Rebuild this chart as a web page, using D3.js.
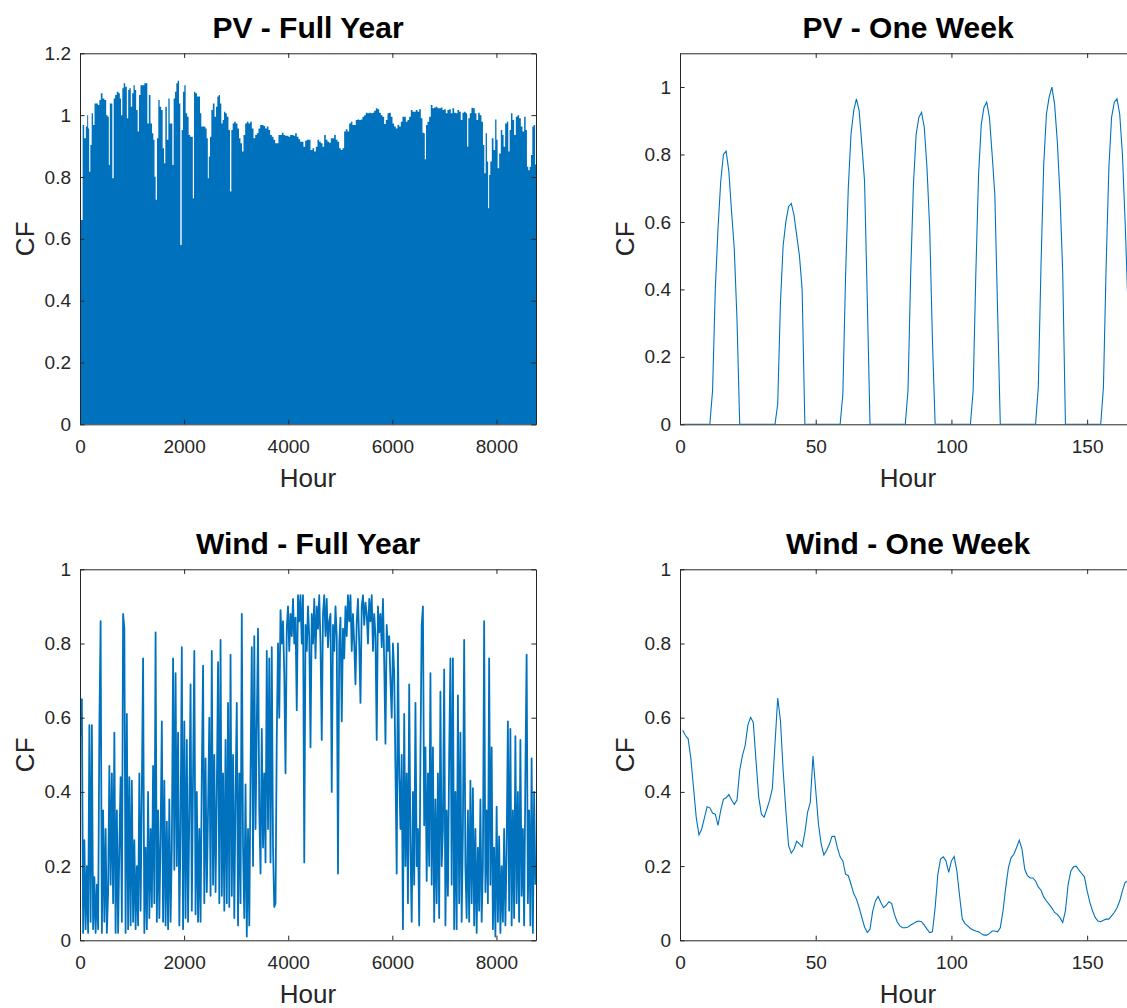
<!DOCTYPE html>
<html>
<head>
<meta charset="utf-8">
<script src="https://cdn.jsdelivr.net/npm/d3@7"></script>
<style>
  html, body { margin: 0; padding: 0; background: #fff; overflow: hidden; }
  svg { display: block; font-family: "Liberation Sans", Arial, Helvetica, sans-serif; }
</style>
</head>
<body>
<svg id="fig" width="1127" height="1008"></svg>
<script>
// ---------- data ----------
// PV capacity factor, one week of hourly values (hours 1..168)
const pvWeek = [
  0,0,0,0,0,0,0,0,0,0,0,
  0.10,0.40,0.58,0.72,0.80,0.81,0.75,0.63,0.52,0.31,
  0,0,0,0,0,0,0,0,0,0,0,0,0,0,
  0.06,0.36,0.53,0.60,0.645,0.655,0.62,0.56,0.50,0.40,
  0,0,0,0,0,0,0,0,0,0,0,0,0,0,
  0.09,0.44,0.70,0.86,0.93,0.965,0.93,0.83,0.72,0.37,
  0,0,0,0,0,0,0,0,0,0,0,0,0,0,
  0.10,0.45,0.71,0.86,0.91,0.925,0.88,0.76,0.58,0.25,
  0,0,0,0,0,0,0,0,0,0,0,0,0,0,
  0.10,0.45,0.74,0.89,0.94,0.955,0.91,0.80,0.68,0.34,
  0,0,0,0,0,0,0,0,0,0,0,0,0,0,
  0.11,0.47,0.77,0.92,0.97,1.0,0.95,0.84,0.68,0.45,
  0,0,0,0,0,0,0,0,0,0,0,0,0,0,
  0.11,0.47,0.76,0.91,0.955,0.965,0.92,0.80,0.60,0.36,
  0,0,0
];

// Wind capacity factor, one week of hourly values (hours 1..168)
const windWeek = [
  0.566,0.552,0.543,0.49,0.41,0.33,0.284,0.30,0.33,0.36,
  0.357,0.343,0.34,0.31,0.35,0.38,0.384,0.393,0.378,0.366,
  0.378,0.458,0.498,0.525,0.58,0.601,0.587,0.485,0.386,0.34,
  0.332,0.354,0.377,0.408,0.53,0.653,0.593,0.458,0.35,0.255,
  0.235,0.246,0.267,0.26,0.252,0.29,0.345,0.372,0.497,0.405,
  0.314,0.26,0.23,0.242,0.258,0.28,0.28,0.249,0.225,0.214,
  0.178,0.174,0.151,0.126,0.111,0.088,0.061,0.036,0.021,0.03,
  0.079,0.106,0.118,0.102,0.088,0.095,0.104,0.099,0.07,0.05,
  0.039,0.034,0.034,0.036,0.041,0.045,0.05,0.052,0.05,0.041,
  0.03,0.021,0.023,0.088,0.178,0.219,0.225,0.214,0.183,0.214,
  0.226,0.187,0.12,0.057,0.045,0.039,0.032,0.028,0.025,0.023,
  0.018,0.014,0.014,0.018,0.025,0.025,0.023,0.034,0.079,0.142,
  0.196,0.223,0.232,0.25,0.27,0.246,0.192,0.174,0.168,0.168,
  0.16,0.144,0.135,0.117,0.106,0.097,0.087,0.075,0.07,0.061,
  0.048,0.079,0.151,0.187,0.198,0.2,0.189,0.18,0.171,0.133,
  0.102,0.079,0.061,0.052,0.05,0.054,0.057,0.057,0.066,0.075,
  0.088,0.106,0.133,0.156,0.16,0.187,0.20,0.21
];

// PV full year: daily peak capacity factor at the listed hours
const pvYearHour = [
  1,38,64,96,128,147,167,186,211,237,263,295,327,359,384,416,448,487,519,544,
  563,583,608,634,660,691,723,756,775,800,826,852,884,916,935,960,992,1012,1044,1063,
  1095,1120,1146,1178,1217,1255,1281,1306,1338,1370,1396,1422,1441,1466,1492,1517,1543,1575,1601,1626,
  1652,1684,1710,1735,1761,1786,1812,1838,1863,1889,1914,1940,1966,1991,2017,2043,2074,2100,2132,2158,
  2177,2203,2228,2267,2292,2318,2343,2369,2395,2420,2446,2465,2484,2510,2536,2568,2600,2625,2651,2676,
  2702,2728,2753,2779,2804,2836,2868,2894,2920,2945,2977,3009,3041,3067,3099,3125,3157,3189,3221,3253,
  3285,3317,3349,3381,3413,3445,3477,3509,3541,3573,3605,3637,3669,3701,3733,3765,3797,3829,3861,3893,
  3925,3957,3989,4021,4053,4085,4117,4149,4181,4213,4245,4277,4309,4341,4373,4405,4450,4482,4514,4546,
  4578,4610,4642,4674,4706,4738,4770,4802,4834,4866,4898,4930,4962,4994,5026,5058,5090,5122,5154,5186,
  5218,5250,5282,5314,5346,5378,5410,5442,5474,5506,5538,5570,5603,5635,5667,5699,5731,5763,5795,5827,
  5859,5891,5923,5955,5987,6019,6051,6083,6115,6147,6179,6211,6243,6275,6307,6339,6371,6403,6435,6467,
  6499,6531,6563,6595,6614,6634,6659,6691,6723,6755,6787,6819,6851,6883,6915,6947,6979,7011,7043,7075,
  7107,7139,7171,7203,7235,7267,7299,7331,7363,7395,7427,7447,7472,7504,7536,7568,7600,7632,7664,7696,
  7728,7754,7780,7805,7831,7850,7869,7895,7927,7959,7991,8010,8036,8068,8100,8125,8151,8183,8215,8241,
  8266,8292,8324,8356,8388,8420,8452,8484,8516,8548,8574,8599,8625,8650,8676,8702,8727,8760
];
const pvYearPeak = [
  0.909,0.661,0.968,0.925,0.963,1.0,0.957,0.817,0.903,1.006,0.968,1.038,1.038,1.033,1.049,1.071,1.054,1.049,1.0,0.995,
  0.839,1.038,1.038,0.796,1.054,1.065,1.076,1.071,1.054,1.0,1.087,1.103,1.092,0.99,1.081,1.087,1.027,1.071,1.097,1.081,
  1.017,0.947,1.065,1.097,1.097,1.103,1.103,0.973,1.065,0.973,0.941,0.92,0.801,0.726,0.925,1.049,1.027,1.017,0.893,0.844,
  1.027,0.92,1.054,0.973,0.973,0.839,1.054,1.076,1.103,1.111,1.038,0.58,0.952,1.076,1.097,1.006,0.995,0.936,0.93,0.93,
  0.731,1.076,1.071,1.06,1.06,1.006,0.963,0.963,0.963,0.957,0.925,0.796,0.866,0.93,1.017,1.038,0.995,1.027,1.06,1.065,
  1.038,0.973,0.984,1.011,1.006,0.995,0.952,0.753,0.952,0.973,0.979,0.973,0.957,0.925,0.909,0.882,0.936,0.973,0.979,0.973,
  0.979,0.957,0.925,0.936,0.941,0.957,0.968,0.968,0.965,0.957,0.963,0.952,0.936,0.93,0.92,0.909,0.909,0.936,0.936,0.943,
  0.936,0.933,0.933,0.93,0.936,0.936,0.933,0.941,0.93,0.922,0.914,0.914,0.898,0.917,0.92,0.92,0.887,0.893,0.882,0.898,
  0.92,0.914,0.909,0.898,0.936,0.92,0.914,0.911,0.925,0.925,0.936,0.92,0.914,0.893,0.887,0.893,0.947,0.954,0.947,0.973,
  0.979,0.968,0.968,0.984,0.986,0.984,0.986,0.995,1.0,1.008,1.006,1.008,1.006,1.008,1.014,1.022,1.019,1.008,1.0,0.995,
  0.971,0.984,1.006,1.008,0.995,0.973,0.963,0.957,0.968,0.963,0.979,0.995,0.995,0.979,0.984,0.995,1.017,1.011,1.011,1.017,
  1.011,1.019,0.99,0.943,0.941,0.857,0.968,0.979,0.995,1.033,1.022,1.025,1.027,1.022,1.022,1.025,1.017,1.019,1.006,1.017,
  1.019,1.006,1.022,1.008,1.006,1.017,1.011,0.984,1.008,1.011,1.006,0.898,0.99,1.006,1.024,1.022,1.006,0.984,1.008,1.0,
  0.979,0.903,0.812,0.941,0.85,0.699,0.806,0.85,0.925,0.887,0.986,0.92,0.828,0.876,0.952,0.936,0.898,0.973,0.979,0.882,
  0.952,1.006,0.984,0.936,0.995,1.0,0.99,0.963,0.947,0.995,0.952,0.833,0.822,0.833,0.871,0.963,0.968,0.84
];

// Wind full year: one capacity-factor value per day (day 0..364)
const windYearDaily = [
  0.55,0.65,0.02,0.27,0.03,0.20,0.02,0.58,0.05,0.58,
  0.03,0.17,0.02,0.15,0.03,0.57,0.86,0.02,0.35,0.05,
  0.30,0.02,0.13,0.47,0.15,0.45,0.10,0.56,0.02,0.35,
  0.02,0.25,0.44,0.05,0.88,0.84,0.02,0.61,0.03,0.44,
  0.04,0.43,0.05,0.27,0.03,0.20,0.04,0.45,0.08,0.41,
  0.76,0.02,0.25,0.03,0.40,0.06,0.30,0.09,0.47,0.10,
  0.83,0.05,0.35,0.06,0.28,0.59,0.05,0.43,0.04,0.32,
  0.03,0.38,0.05,0.25,0.76,0.19,0.72,0.20,0.56,0.04,
  0.30,0.79,0.03,0.59,0.06,0.54,0.05,0.35,0.69,0.08,
  0.45,0.78,0.07,0.40,0.05,0.30,0.05,0.45,0.74,0.10,
  0.49,0.13,0.35,0.60,0.12,0.78,0.15,0.50,0.13,0.40,
  0.75,0.10,0.81,0.12,0.45,0.08,0.54,0.10,0.64,0.09,
  0.77,0.12,0.50,0.06,0.40,0.64,0.04,0.45,0.10,0.88,
  0.25,0.06,0.42,0.01,0.30,0.04,0.45,0.79,0.20,0.82,
  0.30,0.58,0.84,0.35,0.18,0.57,0.25,0.45,0.21,0.78,
  0.30,0.76,0.21,0.79,0.25,0.09,0.10,0.55,0.80,0.60,
  0.89,0.80,0.86,0.72,0.45,0.84,0.90,0.78,0.88,0.82,
  0.92,0.80,0.87,0.62,0.93,0.86,0.93,0.80,0.93,0.21,
  0.85,0.78,0.90,0.82,0.52,0.88,0.80,0.92,0.76,0.90,
  0.84,0.93,0.80,0.54,0.88,0.93,0.82,0.92,0.79,0.86,
  0.88,0.40,0.85,0.78,0.90,0.82,0.18,0.80,0.87,0.59,
  0.84,0.76,0.90,0.82,0.93,0.86,0.93,0.78,0.88,0.80,
  0.69,0.86,0.92,0.80,0.64,0.90,0.93,0.85,0.91,0.88,
  0.80,0.92,0.86,0.93,0.78,0.88,0.82,0.54,0.90,0.83,
  0.88,0.79,0.92,0.75,0.53,0.85,0.78,0.82,0.70,0.60,
  0.80,0.72,0.46,0.18,0.80,0.45,0.30,0.50,0.03,0.61,
  0.20,0.45,0.10,0.69,0.25,0.05,0.40,0.15,0.64,0.20,
  0.30,0.04,0.50,0.85,0.90,0.31,0.52,0.16,0.45,0.20,
  0.72,0.15,0.52,0.05,0.38,0.10,0.45,0.06,0.67,0.20,
  0.30,0.73,0.04,0.35,0.12,0.50,0.76,0.15,0.76,0.03,
  0.40,0.03,0.66,0.10,0.56,0.05,0.30,0.81,0.20,0.06,
  0.35,0.05,0.43,0.10,0.41,0.04,0.30,0.02,0.25,0.08,
  0.38,0.05,0.20,0.86,0.13,0.35,0.10,0.76,0.15,0.52,
  0.03,0.25,0.01,0.36,0.05,0.28,0.02,0.20,0.05,0.30,
  0.04,0.25,0.59,0.08,0.57,0.04,0.35,0.06,0.55,0.10,
  0.40,0.05,0.54,0.12,0.30,0.04,0.45,0.77,0.10,0.35,
  0.04,0.49,0.02,0.40,0.15
];

// tick values
const yearTicks = [0, 2000, 4000, 6000, 8000];
const weekTicks = [0, 50, 100, 150];
const pvYearYTicks = [0, 0.2, 0.4, 0.6, 0.8, 1, 1.2];
const unitYTicks = [0, 0.2, 0.4, 0.6, 0.8, 1];

// ---------- drawing ----------
const BLUE = "#0072BD";
const INK = "#262626";
const svg = d3.select("#fig");

const colX = [80, 680];
const rowY = [53.3, 569.3];
const W = 456, H = 371;

function panel(opts) {
  const { x0, y0, xDomain, yDomain, xTicks, yTicks, title, id } = opts;
  const x = d3.scaleLinear().domain(xDomain).range([0, W]);
  const y = d3.scaleLinear().domain(yDomain).range([H, 0]);
  const g = svg.append("g").attr("transform", `translate(${x0},${y0})`);

  g.append("clipPath").attr("id", id)
    .append("rect").attr("width", W).attr("height", H);

  const plot = g.append("g").attr("clip-path", `url(#${id})`);
  opts.draw(plot, x, y);

  const fmt = d => String(+d.toFixed(1));
  const tick = 4.6;

  const styleAxis = sel => {
    sel.attr("font-family", null).attr("font-size", 19);
    sel.selectAll("path.domain").attr("stroke", INK).attr("stroke-width", 1);
    sel.selectAll(".tick line").attr("stroke", INK).attr("stroke-width", 1);
    sel.selectAll(".tick text").attr("fill", INK);
  };

  g.append("g").attr("transform", `translate(0,${H})`)
    .call(d3.axisBottom(x).tickValues(xTicks).tickFormat(d3.format("d"))
      .tickSizeInner(-tick).tickSizeOuter(0).tickPadding(14.8))
    .call(styleAxis);
  g.append("g")
    .call(d3.axisTop(x).tickValues(xTicks).tickFormat("")
      .tickSizeInner(-tick).tickSizeOuter(0))
    .call(styleAxis);
  g.append("g")
    .call(d3.axisLeft(y).tickValues(yTicks).tickFormat(fmt)
      .tickSizeInner(-tick).tickSizeOuter(0).tickPadding(9))
    .call(styleAxis);
  g.append("g").attr("transform", `translate(${W},0)`)
    .call(d3.axisRight(y).tickValues(yTicks).tickFormat("")
      .tickSizeInner(-tick).tickSizeOuter(0))
    .call(styleAxis);

  g.append("text")
    .attr("x", W / 2).attr("y", -15)
    .attr("text-anchor", "middle")
    .attr("font-size", 30).attr("font-weight", "bold").attr("fill", "#000")
    .text(title);
  g.append("text")
    .attr("x", W / 2).attr("y", H + 62.5)
    .attr("text-anchor", "middle")
    .attr("font-size", 26).attr("fill", INK)
    .text("Hour");
  g.append("text")
    .attr("transform", `translate(-46.5,${H / 2}) rotate(-90)`)
    .attr("text-anchor", "middle")
    .attr("font-size", 26).attr("fill", INK)
    .text("CF");
}

// PV - Full Year: the daily cycle fills the area up to each day's peak
panel({
  id: "c1", x0: colX[0], y0: rowY[0],
  xDomain: [0, 8760], yDomain: [0, 1.2],
  xTicks: yearTicks, yTicks: pvYearYTicks, title: "PV - Full Year",
  draw: (p, x, y) => {
    const pts = pvYearHour.map((h, i) => [h, pvYearPeak[i]]);
    p.append("path").datum(pts)
      .attr("fill", BLUE)
      .attr("d", d3.area().curve(d3.curveStep)
        .x(d => x(d[0])).y0(y(0)).y1(d => y(d[1])));
  }
});

// PV - One Week
panel({
  id: "c2", x0: colX[1], y0: rowY[0],
  xDomain: [0, 168], yDomain: [0, 1.1],
  xTicks: weekTicks, yTicks: unitYTicks, title: "PV - One Week",
  draw: (p, x, y) => {
    p.append("path").datum(pvWeek)
      .attr("fill", "none").attr("stroke", BLUE).attr("stroke-width", 1.1)
      .attr("d", d3.line().x((d, i) => x(i + 1)).y(d => y(d)));
  }
});

// Wind - Full Year: dense hourly trace, drawn with a heavier stroke
panel({
  id: "c3", x0: colX[0], y0: rowY[1],
  xDomain: [0, 8760], yDomain: [0, 1],
  xTicks: yearTicks, yTicks: unitYTicks, title: "Wind - Full Year",
  draw: (p, x, y) => {
    p.append("path").datum(windYearDaily)
      .attr("fill", "none").attr("stroke", BLUE).attr("stroke-width", 1.8)
      .attr("stroke-linejoin", "round")
      .attr("d", d3.line().x((d, i) => x(i * 24 + 12)).y(d => y(d)));
  }
});

// Wind - One Week
panel({
  id: "c4", x0: colX[1], y0: rowY[1],
  xDomain: [0, 168], yDomain: [0, 1],
  xTicks: weekTicks, yTicks: unitYTicks, title: "Wind - One Week",
  draw: (p, x, y) => {
    p.append("path").datum(windWeek)
      .attr("fill", "none").attr("stroke", BLUE).attr("stroke-width", 1.1)
      .attr("d", d3.line().x((d, i) => x(i + 1)).y(d => y(d)));
  }
});
</script>
</body>
</html>
